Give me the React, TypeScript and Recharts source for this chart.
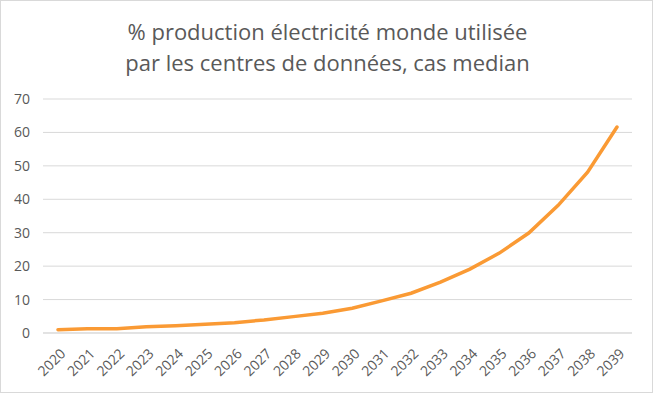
import { LineChart, Line, XAxis, YAxis, CartesianGrid } from 'recharts';

const years = [
  '2020', '2021', '2022', '2023', '2024', '2025', '2026', '2027', '2028', '2029',
  '2030', '2031', '2032', '2033', '2034', '2035', '2036', '2037', '2038', '2039',
];
const shareOfWorldPower = [
  1.0, 1.3, 1.3, 1.9, 2.2, 2.6, 3.1, 3.9, 4.9, 5.9,
  7.4, 9.6, 11.9, 15.2, 19.1, 23.9, 29.9, 38.2, 48.1, 61.6,
];
const yTicks = [0, 10, 20, 30, 40, 50, 60, 70];
const titleLines = [
  '% production électricité monde utilisée',
  'par les centres de données, cas median',
];

const data = years.map((year, i) => ({ year, value: shareOfWorldPower[i] }));

const FONT = '"Open Sans", "Noto Sans", sans-serif';
const TEXT = '#595959';

function YearTick({ x, y, payload }: any) {
  return (
    <g transform={`translate(${x + 5},${y + 10}) rotate(-45)`}>
      <text x={0} y={0} dy="0.35em" textAnchor="end" fill={TEXT} fontSize={14} fontFamily={FONT}>
        {payload.value}
      </text>
    </g>
  );
}

export default function App() {
  return (
    <div
      style={{
        position: 'absolute',
        left: 0,
        top: 0,
        width: 653,
        height: 393,
        background: '#fff',
        boxSizing: 'border-box',
        border: '1px solid #d9d9d9',
        fontFamily: FONT,
      }}
    >
      <div
        style={{
          position: 'absolute',
          top: 15,
          left: 0,
          width: 653,
          textAlign: 'center',
          color: TEXT,
          fontSize: 22,
          lineHeight: '31px',
        }}
      >
        {titleLines.map((t) => (
          <div key={t}>{t}</div>
        ))}
      </div>
      <LineChart
        width={651}
        height={391}
        data={data}
        margin={{ top: 98, right: 20, bottom: 4, left: 4 }}
        style={{ position: 'absolute', left: 0, top: 0 }}
      >
        <CartesianGrid vertical={false} stroke="#d9d9d9" strokeWidth={1} />
        <XAxis
          dataKey="year"
          axisLine={{ stroke: '#d9d9d9' }}
          tickLine={false}
          height={55}
          interval={0}
          padding={{ left: 15, right: 15 }}
          tick={<YearTick />}
        />
        <YAxis
          width={38}
          domain={[0, 70]}
          ticks={yTicks}
          axisLine={false}
          tickLine={false}
          tickSize={0}
          tickMargin={13}
          tick={{ fill: TEXT, fontSize: 14, fontFamily: FONT }}
        />
        <Line
          type="linear"
          dataKey="value"
          stroke="#FA9A34"
          strokeWidth={3.5}
          strokeLinecap="round"
          dot={false}
          isAnimationActive={false}
        />
      </LineChart>
    </div>
  );
}
